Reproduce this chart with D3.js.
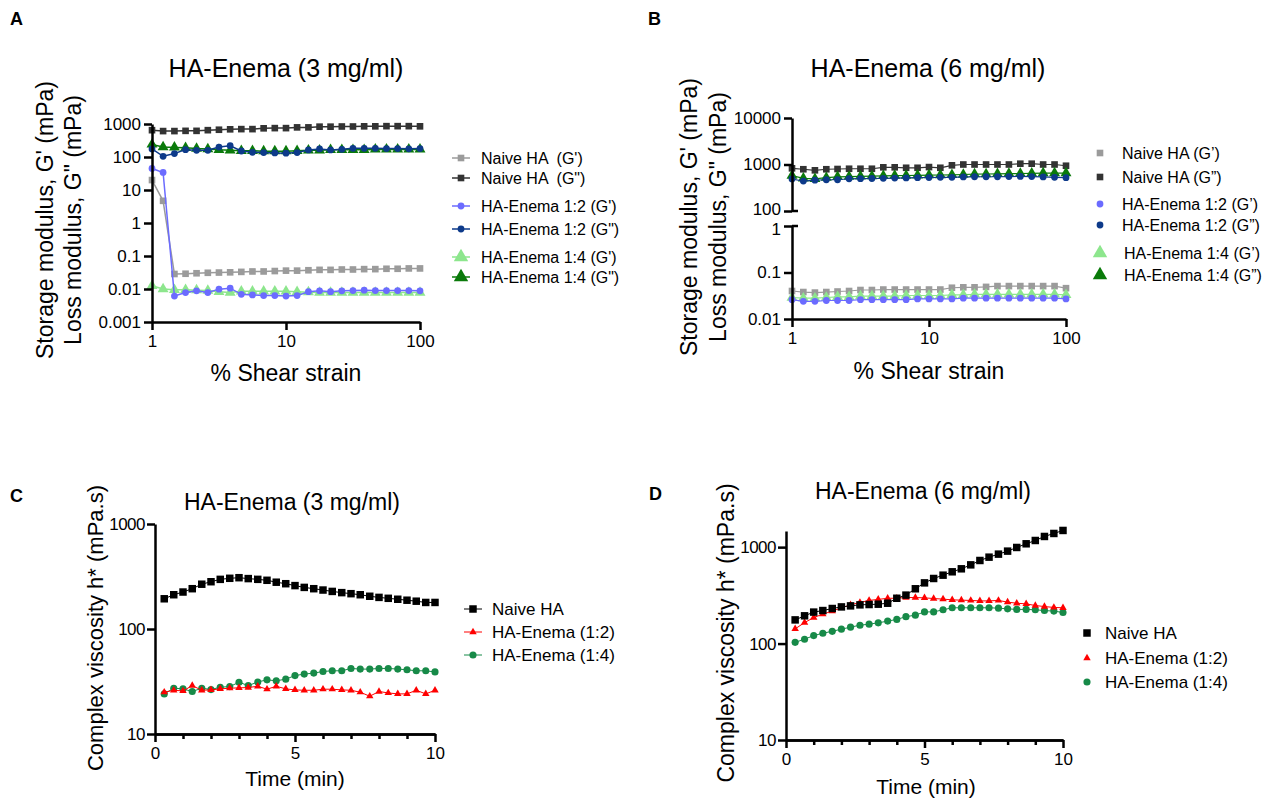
<!DOCTYPE html>
<html>
<head>
<meta charset="utf-8">
<script src="https://cdn.jsdelivr.net/npm/d3@7"></script>
<style>
  body { margin: 0; background: #fff; }
  svg { font-family: "Liberation Sans", Arial, sans-serif; }
  .leg { white-space: pre; }
</style>
</head>
<body>
<svg id="fig" width="1276" height="801"></svg>
<script>
// % shear strain (panels A, B)
const strain = [1, 1.21, 1.47, 1.78, 2.15, 2.61, 3.16, 3.83, 4.64, 5.62, 6.81, 8.25, 10,
  12.1, 14.7, 17.8, 21.5, 26.1, 31.6, 38.3, 46.4, 56.2, 68.1, 82.5, 100];

// panel A, 3 mg/ml
const naiveGp3 = [20, 4.7, 0.0285, 0.029, 0.030, 0.031, 0.0315, 0.032, 0.033, 0.034, 0.034, 0.035, 0.036,
  0.036, 0.037, 0.038, 0.038, 0.039, 0.039, 0.040, 0.040, 0.041, 0.041, 0.042, 0.042];
const naiveGpp3 = [650, 610, 610, 620, 620, 650, 670, 690, 700, 700, 740, 750, 750,
  790, 790, 830, 830, 840, 840, 850, 850, 860, 860, 860, 850];
const enema12Gp3 = [45, 34, 0.0061, 0.0078, 0.0088, 0.0078, 0.0099, 0.0106, 0.0069, 0.0066, 0.0063, 0.0063, 0.0061,
  0.0063, 0.0083, 0.0088, 0.0083, 0.0088, 0.009, 0.0092, 0.009, 0.009, 0.009, 0.009, 0.0088];
const enema12Gpp3 = [175, 105, 127, 167, 160, 160, 200, 220, 152, 139, 136, 133, 130,
  136, 164, 175, 164, 171, 183, 183, 183, 180, 180, 177, 180];
const enema14Gp3 = [0.0125, 0.010, 0.0095, 0.0095, 0.0092, 0.009, 0.0082, 0.0078, 0.0085, 0.0085, 0.0085, 0.0085, 0.0085,
  0.0082, 0.008, 0.0078, 0.0078, 0.0078, 0.0078, 0.0078, 0.0078, 0.0078, 0.0078, 0.0078, 0.0078];
const enema14Gpp3 = [240, 200, 195, 190, 180, 175, 165, 160, 155, 155, 150, 150, 150,
  155, 160, 160, 165, 165, 165, 165, 170, 170, 170, 170, 170];

// panel B, 6 mg/ml
const naiveGp6 = [0.040, 0.038, 0.037, 0.038, 0.039, 0.040, 0.042, 0.042, 0.043, 0.043, 0.043, 0.043, 0.043,
  0.043, 0.047, 0.048, 0.048, 0.049, 0.051, 0.051, 0.051, 0.051, 0.051, 0.051, 0.046];
const naiveGpp6 = [828, 790, 750, 790, 800, 810, 810, 810, 870, 870, 850, 850, 880,
  850, 960, 1000, 1000, 1000, 1000, 1000, 1040, 1040, 1000, 1000, 940];
const enema12Gp6 = [0.026, 0.024, 0.024, 0.025, 0.025, 0.025, 0.026, 0.026, 0.026, 0.026, 0.026, 0.027, 0.027,
  0.027, 0.027, 0.028, 0.028, 0.028, 0.028, 0.028, 0.028, 0.028, 0.028, 0.028, 0.027];
const enema12Gpp6 = [488, 440, 460, 470, 470, 494, 495, 500, 505, 510, 515, 520, 525,
  530, 530, 540, 545, 545, 545, 550, 555, 550, 540, 530, 520];
const enema14Gp6 = [0.029, 0.028, 0.028, 0.029, 0.030, 0.030, 0.031, 0.031, 0.031, 0.031, 0.032, 0.032, 0.032,
  0.032, 0.033, 0.033, 0.034, 0.034, 0.034, 0.034, 0.034, 0.034, 0.034, 0.034, 0.033];
const enema14Gpp6 = [575, 505, 490, 520, 540, 550, 555, 560, 570, 575, 580, 585, 590,
  595, 600, 610, 620, 625, 630, 635, 640, 645, 650, 650, 650];

// time (min), panels C, D
const time = [0.33, 0.67, 1, 1.33, 1.67, 2, 2.33, 2.67, 3, 3.33, 3.67, 4, 4.33, 4.67, 5,
  5.33, 5.67, 6, 6.33, 6.67, 7, 7.33, 7.67, 8, 8.33, 8.67, 9, 9.33, 9.67, 10];

const naiveEta3 = [194, 212, 225, 242, 267, 282, 297, 304, 308, 302, 297, 291, 279, 270, 259,
  249, 242, 235, 228, 222, 217, 212, 205, 200, 196, 192, 188, 184, 179, 179];
const enema12Eta3 = [25.0, 26.1, 25.7, 28.9, 26.1, 26.3, 26.9, 27.3, 27.5, 27.7, 28.5, 26.7, 28.5, 26.9, 26.3,
  26.1, 26.1, 26.7, 26.7, 26.3, 26.1, 25.0, 22.9, 25.4, 24.6, 24.1, 24.1, 26.1, 24.1, 26.1];
const enema14Eta3 = [24.1, 27.3, 26.9, 25.4, 27.3, 26.5, 27.9, 28.3, 31.1, 28.9, 31.3, 32.8, 32.1, 33.3, 36.0,
  37.2, 38.0, 39.4, 40.0, 40.0, 42.1, 41.5, 41.5, 42.1, 42.1, 41.5, 40.9, 40.0, 40.0, 39.0];

const naiveEta6 = [176, 194, 212, 220, 231, 240, 246, 252, 254, 256, 262, 295, 318, 370, 426,
  473, 512, 555, 596, 655, 727, 787, 846, 909, 992, 1083, 1172, 1290, 1386, 1489];
const enema12Eta6 = [142, 165, 186, 202, 217, 235, 252, 267, 280, 287, 295, 295, 300, 300, 298,
  293, 289, 284, 282, 280, 277, 277, 280, 269, 262, 258, 248, 242, 237, 235];
const enema14Eta6 = [103, 111, 121, 128, 134, 141, 148, 155, 159, 164, 171, 178, 190, 197, 213,
  213, 224, 235, 235, 235, 235, 235, 233, 229, 226, 226, 224, 220, 217, 210];

const modulusTicks3 = [0.001, 0.01, 0.1, 1, 10, 100, 1000];
const modulusTicksHi6 = [100, 1000, 10000];
const modulusTicksLo6 = [0.01, 0.1, 1];
const strainTicks = [1, 10, 100];
const viscTicks = [10, 100, 1000];
const timeTicks = [0, 5, 10];
const timeMinor = [1, 2, 3, 4, 6, 7, 8, 9];

const legendA = ["Naive HA  (G')", "Naive HA  (G\")", "HA-Enema 1:2 (G')", "HA-Enema 1:2 (G\")", "HA-Enema 1:4 (G')", "HA-Enema 1:4 (G\")"];
const legendB = ["Naive HA (G\u2019)", "Naive HA (G\u201D)", "HA-Enema 1:2 (G\u2019)", "HA-Enema 1:2 (G\u201D)", "HA-Enema 1:4 (G\u2019)", "HA-Enema 1:4 (G\u201D)"];
const legendCD = ["Naive HA", "HA-Enema (1:2)", "HA-Enema (1:4)"];

const svg = d3.select("#fig");
const fmt = d3.format("~g");

const modStyles = [
  { color: "#9b9b9b", sym: d3.symbolSquare, size: 44 },
  { color: "#333333", sym: d3.symbolSquare, size: 44 },
  { color: "#6b6bff", sym: d3.symbolCircle, size: 36 },
  { color: "#0d3a8a", sym: d3.symbolCircle, size: 36 },
  { color: "#8de68d", sym: d3.symbolTriangle, size: 52 },
  { color: "#0a7a0a", sym: d3.symbolTriangle, size: 52 }
];
const etaStyles = [
  { color: "#000000", sym: d3.symbolSquare, size: 56 },
  { color: "#ff0000", sym: d3.symbolTriangle, size: 24 },
  { color: "#178a48", sym: d3.symbolCircle, size: 40 }
];

function styleAxis(g, w) {
  g.select(".domain").attr("stroke", "#000").attr("stroke-width", w);
  g.selectAll(".tick line").attr("stroke", "#000").attr("stroke-width", w);
  g.selectAll(".tick text").attr("fill", "#000").attr("font-size", 17)
    .attr("font-family", "Liberation Sans, Arial, sans-serif");
}

function series(g, xs, ys, x, y, st, lineW) {
  const pts = xs.map((d, i) => [x(d), y(ys[i])]);
  g.append("path")
    .attr("fill", "none")
    .attr("stroke", st.color)
    .attr("stroke-width", lineW)
    .attr("d", d3.line()(pts));
  g.selectAll(null).data(pts).join("path")
    .attr("transform", p => `translate(${p[0]},${p[1]})`)
    .attr("fill", st.color)
    .attr("d", d3.symbol().type(st.sym).size(st.size));
}

function texts(letter, lx, ly, title, tx, ty, tsize) {
  svg.append("text").attr("x", lx).attr("y", ly).attr("font-size", 18).attr("font-weight", "bold").text(letter);
  svg.append("text").attr("x", tx).attr("y", ty).attr("font-size", tsize).attr("text-anchor", "middle").text(title);
}

function yLabel(lines, x0, cy, size, gap) {
  lines.forEach((t, i) => {
    svg.append("text")
      .attr("transform", `translate(${x0 + i * gap},${cy}) rotate(-90)`)
      .attr("text-anchor", "middle")
      .attr("font-size", size)
      .text(t);
  });
}

// ---------- panel A ----------
{
  const x = d3.scaleLog([1, 100], [152, 420]);
  const y = d3.scaleLog([0.001, 1000], [322, 124]);
  texts("A", 10, 25, "HA-Enema (3 mg/ml)", 286, 77, 25);
  yLabel(["Storage modulus, G' (mPa)", "Loss modulus, G\" (mPa)"], 53, 220, 23, 28);
  svg.append("text").attr("x", 286).attr("y", 381).attr("text-anchor", "middle").attr("font-size", 23).text("% Shear strain");

  const sets = [naiveGp3, naiveGpp3, enema12Gp3, enema12Gpp3, enema14Gp3, enema14Gpp3];
  const order = [0, 4, 2, 1, 5, 3];
  const g = svg.append("g");
  order.forEach(k => series(g, strain, sets[k], x, y, modStyles[k], 1.5));

  svg.append("g").attr("transform", "translate(0,322)")
    .call(d3.axisBottom(x).tickValues(strainTicks).tickFormat(fmt).tickSize(8).tickSizeOuter(0).tickPadding(5))
    .call(g => styleAxis(g, 2.5));
  svg.append("g").attr("transform", "translate(152,0)")
    .call(d3.axisLeft(y).tickValues(modulusTicks3).tickFormat(fmt).tickSize(8).tickSizeOuter(0).tickPadding(3))
    .call(g => styleAxis(g, 2.5));

  const legY = [158, 178, 206, 229, 257, 277];
  legendA.forEach((t, i) => {
    const st = modStyles[i];
    svg.append("line").attr("x1", 452).attr("x2", 470).attr("y1", legY[i]).attr("y2", legY[i])
      .attr("stroke", st.color).attr("stroke-width", 1.5);
    svg.append("path").attr("transform", `translate(461,${legY[i]})`).attr("fill", st.color)
      .attr("d", d3.symbol().type(st.sym).size(i >= 4 ? 90 : st.size));
    svg.append("text").attr("class", "leg").attr("x", 481).attr("y", legY[i] + 6).attr("font-size", 16).text(t);
  });
}

// ---------- panel B (broken y axis) ----------
{
  const x = d3.scaleLog([1, 100], [792, 1066]);
  const yHi = d3.scaleLog([100, 10000], [211, 118]);
  const yLo = d3.scaleLog([0.01, 1], [319, 226]);
  texts("B", 648, 25, "HA-Enema (6 mg/ml)", 928, 77, 25);
  yLabel(["Storage modulus, G' (mPa)", "Loss modulus, G\" (mPa)"], 697, 217, 23, 29);
  svg.append("text").attr("x", 929).attr("y", 379).attr("text-anchor", "middle").attr("font-size", 23).text("% Shear strain");

  const sets = [naiveGp6, naiveGpp6, enema12Gp6, enema12Gpp6, enema14Gp6, enema14Gpp6];
  const order = [0, 4, 2, 1, 5, 3];
  const g = svg.append("g");
  order.forEach(k => series(g, strain, sets[k], x, k % 2 ? yHi : yLo, modStyles[k], 1.2));

  svg.append("g").attr("transform", "translate(0,319)")
    .call(d3.axisBottom(x).tickValues(strainTicks).tickFormat(fmt).tickSize(8).tickSizeOuter(0).tickPadding(5))
    .call(g => styleAxis(g, 2.5));
  svg.append("g").attr("transform", "translate(792,0)")
    .call(d3.axisLeft(yHi).tickValues(modulusTicksHi6).tickFormat(fmt).tickSize(8).tickSizeOuter(0).tickPadding(3))
    .call(g => styleAxis(g, 2.5))
    .call(g => g.selectAll(".tick text").attr("dy", d => d === 100 ? "0.2em" : "0.32em"));
  svg.append("g").attr("transform", "translate(792,0)")
    .call(d3.axisLeft(yLo).tickValues(modulusTicksLo6).tickFormat(fmt).tickSize(8).tickSizeOuter(0).tickPadding(3))
    .call(g => styleAxis(g, 2.5))
    .call(g => g.selectAll(".tick text").attr("dy", d => d === 1 ? "0.5em" : "0.32em"));
  // break caps
  [yHi(100), yLo(1)].forEach(v => {
    svg.append("line").attr("x1", 792).attr("x2", 798).attr("y1", v).attr("y2", v)
      .attr("stroke", "#000").attr("stroke-width", 2.5);
  });

  const legY = [153, 177, 204, 225, 253, 275];
  legendB.forEach((t, i) => {
    const st = modStyles[i];
    svg.append("path").attr("transform", `translate(1100,${legY[i]})`).attr("fill", st.color)
      .attr("d", d3.symbol().type(st.sym).size(i >= 4 ? 90 : st.size));
    svg.append("text").attr("class", "leg").attr("x", i >= 4 ? 1124 : 1122).attr("y", legY[i] + 6).attr("font-size", 16).text(t);
  });
}

// ---------- panels C and D ----------
function viscPanel(cfg) {
  const x = d3.scaleLinear([0, 10], [cfg.x0, cfg.x1]);
  const y = d3.scaleLog([10, cfg.yMax], [cfg.yBot, cfg.yTop]);
  texts(cfg.letter, cfg.lx, cfg.ly, "HA-Enema (" + cfg.conc + " mg/ml)", cfg.tx, cfg.ty, 23);
  yLabel(["Complex viscosity h* (mPa.s)"], cfg.ylx, cfg.ylcy, cfg.yls, 0);
  svg.append("text").attr("x", cfg.xlx).attr("y", cfg.xly).attr("text-anchor", "middle").attr("font-size", 21).text("Time (min)");

  const g = svg.append("g");
  [2, 1, 0].forEach(k => series(g, time, cfg.sets[k], x, y, etaStyles[k], 1));

  svg.append("g").attr("transform", `translate(0,${cfg.yBot})`)
    .call(d3.axisBottom(x).tickValues(timeMinor).tickFormat("").tickSize(5).tickSizeOuter(0))
    .call(g => styleAxis(g, 2.5));
  svg.append("g").attr("transform", `translate(0,${cfg.yBot})`)
    .call(d3.axisBottom(x).tickValues(timeTicks).tickFormat(fmt).tickSize(8).tickSizeOuter(0).tickPadding(5))
    .call(g => styleAxis(g, 2.5));
  svg.append("g").attr("transform", `translate(${cfg.x0},0)`)
    .call(d3.axisLeft(y).tickValues(viscTicks).tickFormat(fmt).tickSize(8).tickSizeOuter(0).tickPadding(2))
    .call(g => styleAxis(g, 2.5))
    .call(g => g.selectAll(".tick text").attr("letter-spacing", -0.5));

  cfg.legY.forEach((ly, i) => {
    const st = etaStyles[i];
    if (cfg.legLine) {
      svg.append("line").attr("x1", cfg.legMx - 9).attr("x2", cfg.legMx + 9).attr("y1", ly).attr("y2", ly)
        .attr("stroke", st.color).attr("stroke-width", 1);
    }
    svg.append("path").attr("transform", `translate(${cfg.legMx},${ly})`).attr("fill", st.color)
      .attr("d", d3.symbol().type(st.sym).size(st.size));
    svg.append("text").attr("x", cfg.legTx).attr("y", ly + 6).attr("font-size", 17).text(legendCD[i]);
  });
}

viscPanel({
  letter: "C", lx: 10, ly: 502, conc: 3, tx: 292, ty: 510,
  x0: 155, x1: 435, yTop: 524, yBot: 734, yMax: 1000,
  ylx: 103, ylcy: 628, yls: 22, xlx: 295, xly: 786,
  sets: [naiveEta3, enema12Eta3, enema14Eta3],
  legY: [609, 632, 655], legMx: 473, legTx: 492, legLine: true
});
viscPanel({
  letter: "D", lx: 649, ly: 500, conc: 6, tx: 923, ty: 499,
  x0: 786, x1: 1063, yTop: 531, yBot: 740, yMax: 1470,
  ylx: 734, ylcy: 633, yls: 23, xlx: 926, xly: 794,
  sets: [naiveEta6, enema12Eta6, enema14Eta6],
  legY: [633, 658, 682], legMx: 1087, legTx: 1105, legLine: false
});
</script>
</body>
</html>
